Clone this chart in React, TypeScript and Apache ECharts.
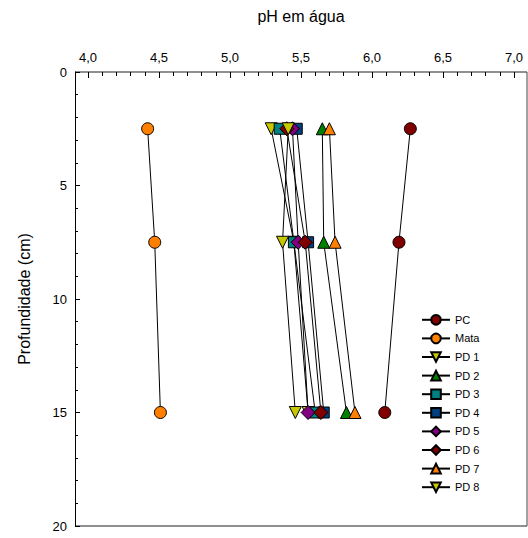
import React, { useEffect, useRef } from "react";
import * as echarts from "echarts";

const depths = [2.5, 7.5, 15];
const seriesNames = ["PC", "Mata", "PD 1", "PD 2", "PD 3", "PD 4", "PD 5", "PD 6", "PD 7", "PD 8"];
const pcValues = [6.27, 6.19, 6.09];
const mataValues = [4.42, 4.47, 4.51];
const pd1Values = [5.29, 5.45, 5.55];
const pd2Values = [5.65, 5.66, 5.82];
const pd3Values = [5.35, 5.45, 5.6];
const pd4Values = [5.47, 5.55, 5.66];
const pd5Values = [5.44, 5.48, 5.55];
const pd6Values = [5.4, 5.53, 5.64];
const pd7Values = [5.7, 5.74, 5.88];
const pd8Values = [5.41, 5.37, 5.46];
const xTicks = [4.0, 4.5, 5.0, 5.5, 6.0, 6.5, 7.0];
const yTicks = [0, 5, 10, 15, 20];

const allValues = [pcValues, mataValues, pd1Values, pd2Values, pd3Values, pd4Values, pd5Values, pd6Values, pd7Values, pd8Values];
const colors = ["#800000", "#FF8000", "#C8C800", "#008000", "#008080", "#004080", "#800080", "#800000", "#FF8000", "#C8C800"];
const symbols = ["circle", "circle", "triangle", "triangle", "rect", "rect", "diamond", "diamond", "triangle", "triangle"];
const rotations = [0, 0, 180, 0, 0, 0, 0, 0, 0, 180];
const sizes = [12, 12, 12, 12, 11, 11, 14, 14, 12, 12];

const FONT = "Liberation Sans, Arial, sans-serif";

export default function App() {
  const ref = useRef<HTMLDivElement>(null);
  useEffect(() => {
    if (!ref.current) return;
    const chart = echarts.init(ref.current, undefined, { renderer: "svg" });
    const series = seriesNames.map((name, i) => ({
      name,
      type: "line",
      data: allValues[i].map((v, j) => [v, depths[j]]),
      symbol: symbols[i],
      symbolSize: sizes[i],
      symbolRotate: rotations[i],
      lineStyle: { color: "#000", width: 1 },
      itemStyle: { color: colors[i], borderColor: "#000", borderWidth: 1 },
      emphasis: { disabled: true },
    }));
    chart.setOption({
      animation: false,
      grid: { left: 88, right: 14, top: 72, bottom: 12, containLabel: false },
      xAxis: {
        type: "value",
        position: "top",
        min: xTicks[0],
        max: xTicks[xTicks.length - 1],
        interval: 0.5,
        name: "pH em água",
        nameLocation: "middle",
        nameGap: 48,
        nameTextStyle: { fontSize: 16, fontFamily: FONT, color: "#000" },
        axisLine: { show: false },
        axisTick: { show: true, inside: true, length: 6, lineStyle: { color: "#000", width: 1 } },
        minorTick: { show: true, splitNumber: 5, length: 4, lineStyle: { color: "#000", width: 1 } },
        splitLine: { show: false },
        axisLabel: {
          margin: 8,
          fontSize: 13,
          fontFamily: FONT,
          color: "#000",
          formatter: (v: number) => v.toFixed(1).replace(".", ","),
        },
      },
      yAxis: {
        type: "value",
        inverse: true,
        min: yTicks[0],
        max: yTicks[yTicks.length - 1],
        interval: 5,
        offset: 13,
        name: "Profundidade (cm)",
        nameLocation: "middle",
        nameGap: 43,
        nameTextStyle: { fontSize: 16, fontFamily: FONT, color: "#000" },
        axisLine: { show: true, lineStyle: { color: "#000", width: 1 } },
        axisTick: { show: true, inside: true, length: 5, lineStyle: { color: "#000" } },
        minorTick: { show: true, splitNumber: 5, length: 3, lineStyle: { color: "#000" } },
        splitLine: { show: false },
        axisLabel: { margin: 8, fontSize: 13, fontFamily: FONT, color: "#000" },
      },
      legend: {
        orient: "vertical",
        left: 416,
        top: 309,
        itemWidth: 28,
        itemHeight: 12,
        itemGap: 7,
        data: seriesNames,
        textStyle: { fontSize: 11, fontFamily: FONT, color: "#000" },
      },
      graphic: [
        { type: "line", shape: { x1: 75, y1: 72, x2: 527, y2: 72 }, style: { stroke: "#6a6a6a", lineWidth: 1.5 } },
        { type: "line", shape: { x1: 75, y1: 526, x2: 527, y2: 526 }, style: { stroke: "#6a6a6a", lineWidth: 1.5 } },
        { type: "line", shape: { x1: 527, y1: 72, x2: 527, y2: 526 }, style: { stroke: "#444", lineWidth: 1 } },
      ],
      series,
    });
    return () => chart.dispose();
  }, []);
  return (
    <div
      ref={ref}
      style={{ position: "fixed", left: 0, top: 0, width: 528, height: 538, background: "#fff" }}
    />
  );
}
